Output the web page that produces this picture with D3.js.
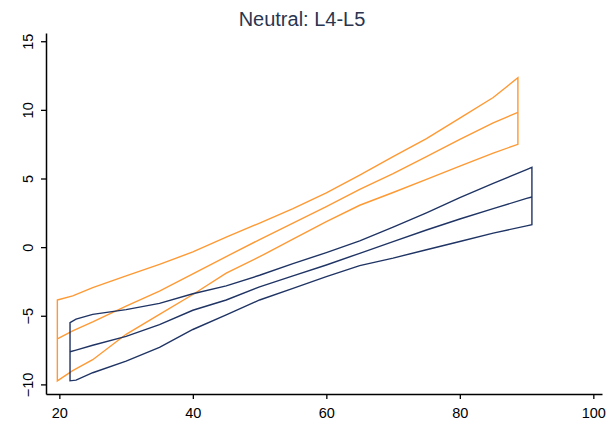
<!DOCTYPE html>
<html>
<head>
<meta charset="utf-8">
<script src="https://cdn.jsdelivr.net/npm/d3@7/dist/d3.min.js"></script>
<style>
  html, body { margin: 0; padding: 0; background: #ffffff; }
  svg { display: block; }
  text { font-family: "Liberation Sans", Arial, sans-serif; }
</style>
</head>
<body>
<svg id="chart" width="613" height="425"></svg>
<script>
// Age grid and predicted values with 95% band, group 1 (orange)
const ageA   = [19.7, 22, 25, 30, 35, 40, 45, 50, 55, 60, 65, 70, 75, 80, 85, 88.7];
const meanA  = [-6.69, -6.1, -5.45, -4.3, -3.2, -1.95, -0.69, 0.55, 1.75, 2.95, 4.2, 5.35, 6.6, 7.85, 9.05, 9.82];
const upperA = [-3.85, -3.55, -2.95, -2.1, -1.25, -0.35, 0.73, 1.75, 2.8, 3.95, 5.25, 6.6, 7.9, 9.4, 10.9, 12.34];
const lowerA = [-9.74, -9.0, -8.2, -6.35, -4.9, -3.45, -1.9, -0.7, 0.58, 1.85, 3.05, 3.98, 4.93, 5.9, 6.85, 7.49];

// Group 2 (navy)
const ageB   = [21.6, 22.5, 25, 30, 35, 40, 45, 50, 55, 60, 65, 70, 75, 80, 85, 90, 90.8];
const meanB  = [-7.62, -7.5, -7.15, -6.5, -5.65, -4.6, -3.85, -2.9, -2.1, -1.3, -0.45, 0.4, 1.25, 2.05, 2.8, 3.55, 3.65];
const upperB = [-5.5, -5.25, -4.9, -4.55, -4.1, -3.4, -2.82, -2.05, -1.2, -0.4, 0.45, 1.45, 2.5, 3.6, 4.65, 5.65, 5.81];
const lowerB = [-9.74, -9.69, -9.15, -8.3, -7.3, -6.0, -4.94, -3.85, -3.0, -2.15, -1.35, -0.8, -0.19, 0.41, 1.02, 1.55, 1.63];

const xTicks = [20, 40, 60, 80, 100];
const yTicks = [-10, -5, 0, 5, 10, 15];
const title = "Neutral: L4-L5";

const svg = d3.select("#chart");

const x = d3.scaleLinear().domain([18, 101.3]).range([46, 602]);
const y = d3.scaleLinear().domain([-10.7, 15.6]).range([394, 33]);

// Axes
const xAxis = svg.append("g")
  .attr("transform", "translate(0,394)")
  .call(d3.axisBottom(x).tickValues(xTicks).tickSizeOuter(0).tickSizeInner(5).tickPadding(9));
const yAxis = svg.append("g")
  .attr("transform", "translate(46,0)")
  .call(d3.axisLeft(y).tickValues(yTicks).tickSizeOuter(0).tickSizeInner(5));

[xAxis, yAxis].forEach(g => {
  g.select(".domain").attr("stroke", "#000").attr("stroke-width", 1.5);
  g.selectAll(".tick line").attr("stroke", "#000").attr("stroke-width", 1.3);
});
xAxis.selectAll(".tick text")
  .attr("font-size", 14.5).attr("fill", "#000")
  .attr("font-family", "Liberation Sans, Arial, sans-serif");
yAxis.selectAll(".tick text")
  .attr("font-size", 14.5).attr("fill", "#000")
  .attr("font-family", "Liberation Sans, Arial, sans-serif")
  .attr("text-anchor", "middle")
  .attr("dy", null)
  .attr("x", null)
  .attr("transform", "translate(-13,0) rotate(-90)");

// Title
svg.append("text")
  .attr("x", 302).attr("y", 26)
  .attr("text-anchor", "middle")
  .attr("font-size", 20)
  .attr("fill", "#2a3550")
  .text(title);

function drawGroup(ages, mean, upper, lower, color) {
  const pts = ages.map((a, i) => ({ a, m: mean[i], u: upper[i], l: lower[i] }));
  // Band outline: upper edge forward, lower edge back, closed at both ends
  const outline = pts.map(p => [x(p.a), y(p.u)])
    .concat(pts.slice().reverse().map(p => [x(p.a), y(p.l)]));
  svg.append("path")
    .attr("d", d3.line()(outline) + "Z")
    .attr("fill", "none")
    .attr("stroke", color)
    .attr("stroke-width", 1.4)
    .attr("stroke-linejoin", "miter");
  svg.append("path")
    .attr("d", d3.line().x(p => x(p.a)).y(p => y(p.m))(pts))
    .attr("fill", "none")
    .attr("stroke", color)
    .attr("stroke-width", 1.4);
}

drawGroup(ageA, meanA, upperA, lowerA, "#ff9933");
drawGroup(ageB, meanB, upperB, lowerB, "#1f3464");
</script>
</body>
</html>
